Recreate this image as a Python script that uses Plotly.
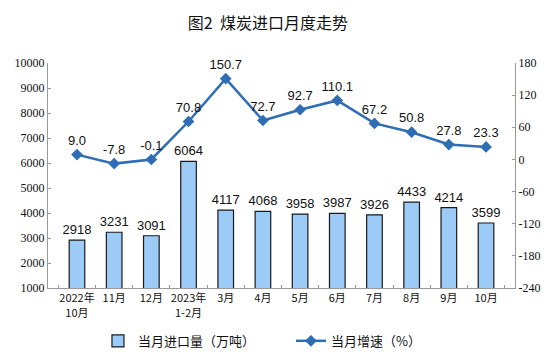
import plotly.graph_objects as go

categories = ["2022年<br>10月", "11月", "12月", "2023年<br>1-2月", "3月", "4月", "5月", "6月", "7月", "8月", "9月", "10月"]
imports = [2918, 3231, 3091, 6064, 4117, 4068, 3958, 3987, 3926, 4433, 4214, 3599]
growth = [9.0, -7.8, -0.1, 70.8, 150.7, 72.7, 92.7, 110.1, 67.2, 50.8, 27.8, 23.3]
left_ticks = [1000, 2000, 3000, 4000, 5000, 6000, 7000, 8000, 9000, 10000]
right_ticks = [-240, -180, -120, -60, 0, 60, 120, 180]

fig = go.Figure()
fig.add_trace(go.Bar(
    x=categories, y=imports, name="当月进口量（万吨）",
    marker=dict(color="#9DCBF7", line=dict(color="#1a1a1a", width=1.2)),
    text=[str(v) for v in imports], textposition="outside", textangle=0, constraintext="none",
    textfont=dict(family="Liberation Sans, Arial", size=13, color="#111"),
    cliponaxis=False,
))
fig.add_trace(go.Scatter(
    x=categories, y=growth, name="当月增速（%）", yaxis="y2",
    mode="lines+markers+text",
    line=dict(color="#2F6DB5", width=2.5),
    marker=dict(symbol="diamond", size=9, color="#2F6DB5"),
    text=[f"{v:.1f}" for v in growth], textposition="top center",
    textfont=dict(family="Liberation Sans, Arial", size=13, color="#111"),
    cliponaxis=False,
))

fig.update_layout(
    width=546, height=349,
    margin=dict(l=40, r=39, t=55, b=69, autoexpand=False),
    paper_bgcolor="white", plot_bgcolor="white",
    title=dict(text="图2  煤炭进口月度走势", x=0.476, xanchor="center", y=0.957, yanchor="middle",
               font=dict(family="Noto Sans CJK SC", size=16, color="#111")),
    bargap=0.58,
    showlegend=True,
    legend=dict(orientation="h", x=0.107, xanchor="left", y=-0.235, yanchor="middle",
                font=dict(family="Noto Sans CJK SC", size=13, color="#111"),
                itemwidth=30, entrywidthmode="pixels", entrywidth=148),
    xaxis=dict(type="category", showline=True, linecolor="#999", linewidth=1,
               ticks="inside", ticklen=3, tickcolor="#999", tickson="boundaries", tickangle=0,
               tickfont=dict(family="Noto Sans CJK SC", size=11, color="#111"), showgrid=False),
    yaxis=dict(range=[1000, 10000], tickvals=left_ticks, ticktext=[str(v) for v in left_ticks],
               showline=True, linecolor="#999", linewidth=1,
               ticks="inside", ticklen=3, tickcolor="#999", showgrid=False, zeroline=False,
               tickfont=dict(family="Liberation Serif, Times New Roman", size=12, color="#111")),
    yaxis2=dict(range=[-240, 180], tickvals=right_ticks, ticktext=[str(v) for v in right_ticks],
                overlaying="y", side="right",
                showline=True, linecolor="#999", linewidth=1,
                ticks="inside", ticklen=3, tickcolor="#999", showgrid=False, zeroline=False,
                tickfont=dict(family="Liberation Serif, Times New Roman", size=12, color="#111")),
)

fig.write_html("out.html")
